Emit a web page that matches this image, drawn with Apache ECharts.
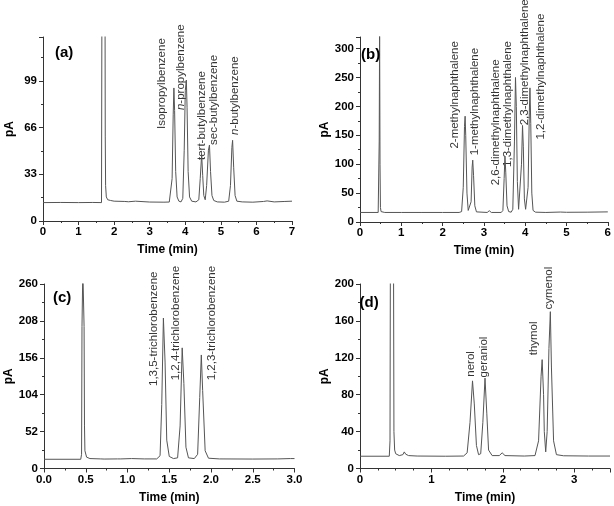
<!DOCTYPE html>
<html><head><meta charset="utf-8">
<script src="https://cdn.jsdelivr.net/npm/echarts@6/dist/echarts.min.js"></script>
<style>html,body{margin:0;padding:0;background:#fff}#c{width:614px;height:506px}</style>
</head><body><div id="c"></div>
<script>
// ---------- Data (time in min, signal in pA) ----------
const traceA = [[0,13],[0.5,13.1],[1.0,13],[1.4,13.1],[1.645,13],[1.655,140],[1.70,400],[1.745,140],[1.75,60],[1.76,25],[1.78,17],[1.82,15],[1.9,14.5],[2.0,14],[2.3,13.8],[2.35,14.3],[2.4,13.6],[2.6,14],[2.65,13.5],[3.0,13.4],[3.4,13.3],[3.55,13.4],[3.6,14],[3.63,30],[3.66,75],[3.68,94],[3.70,78],[3.73,35],[3.77,17],[3.82,14],[3.88,13.5],[3.93,16],[3.97,50],[4.00,92],[4.03,99.6],[4.05,80],[4.08,35],[4.12,17],[4.18,14],[4.30,13.5],[4.38,15],[4.42,30],[4.46,47],[4.49,32],[4.52,18],[4.56,15],[4.60,25],[4.65,50],[4.68,53.7],[4.71,35],[4.75,18],[4.80,14.5],[4.9,13.5],[5.1,13.3],[5.22,14],[5.27,25],[5.31,52],[5.33,57],[5.36,38],[5.40,18],[5.45,14],[5.6,13.5],[5.9,13.3],[6.2,13.8],[6.3,14.2],[6.5,13.5],[6.8,13.8],[7.0,14]];
const traceB = [[0,16.5],[0.44,16.5],[0.455,18],[0.465,140],[0.475,330],[0.485,100],[0.495,25],[0.51,18],[0.6,16.5],[1.0,16.5],[1.5,16.5],[2.0,16.5],[2.40,16.5],[2.46,18],[2.50,60],[2.53,165],[2.545,183],[2.56,150],[2.59,50],[2.62,20],[2.65,17],[2.66,17],[2.69,35],[2.715,95],[2.73,107],[2.75,80],[2.78,28],[2.82,17.5],[3.08,16.5],[3.13,19.5],[3.18,16.5],[3.42,16.5],[3.46,20],[3.49,75],[3.51,114],[3.53,85],[3.56,28],[3.60,18],[3.66,17],[3.70,22],[3.74,140],[3.765,250],[3.785,200],[3.81,70],[3.84,22],[3.87,20],[3.88,25],[3.91,100],[3.935,167],[3.955,130],[3.98,40],[4.01,22],[4.04,23],[4.07,60],[4.10,190],[4.115,232],[4.135,170],[4.16,50],[4.19,20],[4.25,17],[4.5,16.5],[4.85,17.2],[5.0,16.8],[5.5,17],[6.0,17.5]];
const traceC = [[0,13],[0.44,13],[0.45,20],[0.455,200],[0.465,280],[0.475,280],[0.48,200],[0.485,60],[0.49,25],[0.51,16],[0.55,14],[0.68,13.5],[0.7,14.5],[0.72,13.3],[0.88,13.5],[0.9,15],[0.92,13.5],[1.05,14],[1.2,13.5],[1.35,13.5],[1.39,18],[1.41,90],[1.43,212],[1.45,150],[1.47,40],[1.50,17],[1.55,14],[1.60,15],[1.63,60],[1.655,170],[1.675,120],[1.70,30],[1.73,15],[1.80,14],[1.84,20],[1.865,100],[1.884,160],[1.90,110],[1.93,25],[1.97,14.5],[2.1,13.5],[2.5,13.3],[2.8,13.5],[2.95,14],[3.0,14]];
const traceD = [[0,13.3],[0.41,13.3],[0.42,30],[0.425,210],[0.445,260],[0.47,210],[0.475,40],[0.485,20],[0.5,16],[0.55,14],[0.6,15],[0.62,18],[0.64,15.5],[0.68,14],[0.8,13.5],[1.2,13.3],[1.45,13.5],[1.5,17],[1.54,50],[1.575,95],[1.60,70],[1.63,25],[1.66,15],[1.69,16],[1.72,50],[1.75,98],[1.775,60],[1.80,20],[1.85,14],[1.95,14],[1.99,17],[2.03,14],[2.3,13.5],[2.45,14],[2.5,30],[2.535,100],[2.55,118],[2.57,80],[2.58,40],[2.60,18],[2.62,40],[2.645,130],[2.665,170],[2.68,110],[2.71,30],[2.75,15],[2.85,13.8],[3.2,13.5],[3.5,13.5]];

const namesA = ['Isopropylbenzene','{i|n}-propylbenzene','tert-butylbenzene','sec-butylbenzene','{i|n}-butylbenzene'];
const labelTimeA = [3.34, 3.87, 4.46, 4.81, 5.40];
const labelPaA = [65, 78.4, 43.1, 53.7, 60.8];

const namesB = ['2-methylnaphthalene','1-methylnaphthalene','2,6-dimethylnaphthalene','1,3-dimethylnaphthalene','2,3-dimethylnaphthalene','1,2-dimethylnaphthalene'];
const labelTimeB = [2.29, 2.77, 3.29, 3.57, 3.98, 4.38];
const labelPaB = [127, 115.4, 63.5, 95.2, 167.3, 142.6];

const namesC = ['1,3,5-trichlorobenzene','1,2,4-trichlorobenzene','1,2,3-trichlorobenzene'];
const labelTimeC = [1.312, 1.584, 2.011];
const labelPaC = [116.3, 124.3, 124.3];

const namesD = ['nerol','geraniol','thymol','cymenol'];
const labelTimeD = [1.549, 1.729, 2.43, 2.64];
const labelPaD = [99.5, 98.6, 122.7, 172.3];

const panelLetters = ['(a)','(b)','(c)','(d)'];
const xMax = [7, 6, 3, 3.5];
const xInterval = [1, 1, 0.5, 1];
const xMinorSplit = [2, 2, 2, 4];
const yMax = [130, 320, 260, 200];
const yInterval = [33, 50, 52, 40];

// ---------- Layout ----------
const FONT = "'Liberation Sans', Arial, sans-serif";
const grids = [
  {left: 43, top: 37, width: 249, height: 184},
  {left: 360, top: 37, width: 249, height: 185},
  {left: 44, top: 284, width: 250.5, height: 184.5},
  {left: 360, top: 284, width: 250, height: 184.5}
];
const letterPos = [[55, 45], [361, 47], [53, 290], [359.5, 295]];
const axisCol = '#333';

const traces = [traceA, traceB, traceC, traceD];
const labelSets = [
  [namesA, labelTimeA, labelPaA],
  [namesB, labelTimeB, labelPaB],
  [namesC, labelTimeC, labelPaC],
  [namesD, labelTimeD, labelPaD]
];

const xAxes = [], yAxes = [], series = [], graphics = [];
for (let i = 0; i < 4; i++) {
  xAxes.push({
    type: 'value', gridIndex: i, min: 0, max: xMax[i], interval: xInterval[i],
    name: 'Time (min)', nameLocation: 'middle', nameGap: 23,
    nameTextStyle: {fontFamily: FONT, fontWeight: 'bold', fontSize: 12, color: '#000'},
    axisLine: {show: true, lineStyle: {color: axisCol, width: 1}},
    axisTick: {show: true, length: 4, lineStyle: {color: axisCol}},
    minorTick: {show: true, splitNumber: xMinorSplit[i], length: 2, lineStyle: {color: axisCol}},
    splitLine: {show: false},
    axisLabel: {fontFamily: FONT, fontWeight: 'bold', fontSize: 11.5, color: '#000', margin: 5,
      showMaxLabel: i !== 3,
      formatter: i === 2 ? (v => v.toFixed(1)) : (v => String(v))}
  });
  yAxes.push({
    type: 'value', gridIndex: i, min: 0, max: yMax[i], interval: yInterval[i],
    name: 'pA', nameLocation: 'middle', nameGap: 27,
    nameTextStyle: {fontFamily: FONT, fontWeight: 'bold', fontSize: 12, color: '#000'},
    axisLine: {show: true, lineStyle: {color: axisCol, width: 1}},
    axisTick: {show: true, length: 4, lineStyle: {color: axisCol}},
    minorTick: {show: true, splitNumber: 2, length: 2, lineStyle: {color: axisCol}},
    splitLine: {show: false},
    axisLabel: {fontFamily: FONT, fontWeight: 'bold', fontSize: 11.5, color: '#000', margin: 6,
      showMaxLabel: (i === 2 || i === 3)}
  });
  series.push({
    type: 'line', xAxisIndex: i, yAxisIndex: i, data: traces[i],
    showSymbol: false, symbol: 'none', clip: true, silent: true,
    lineStyle: {color: '#555', width: 1}
  });
  const [nm, tt, pp] = labelSets[i];
  series.push({
    type: 'scatter', xAxisIndex: i, yAxisIndex: i, silent: true, symbolSize: 0,
    data: nm.map((n, k) => [tt[k], pp[k], n]),
    label: {
      show: true, position: 'inside', rotate: 90, align: 'left', verticalAlign: 'middle',
      formatter: p => p.data[2],
      fontFamily: FONT, fontSize: 11.5, color: '#000',
      rich: {i: {fontFamily: FONT, fontSize: 11.5, fontStyle: 'italic', color: '#000'}}
    }
  });
  graphics.push({
    type: 'text', left: letterPos[i][0], top: letterPos[i][1], z: 100,
    style: {text: panelLetters[i], font: "bold 15px 'Liberation Sans', Arial, sans-serif", fill: '#000'}
  });
}

const chart = echarts.init(document.getElementById('c'), null, {renderer: 'canvas'});
chart.setOption({
  animation: false,
  backgroundColor: '#fff',
  grid: grids,
  xAxis: xAxes,
  yAxis: yAxes,
  series: series,
  graphic: graphics
});
</script></body></html>
